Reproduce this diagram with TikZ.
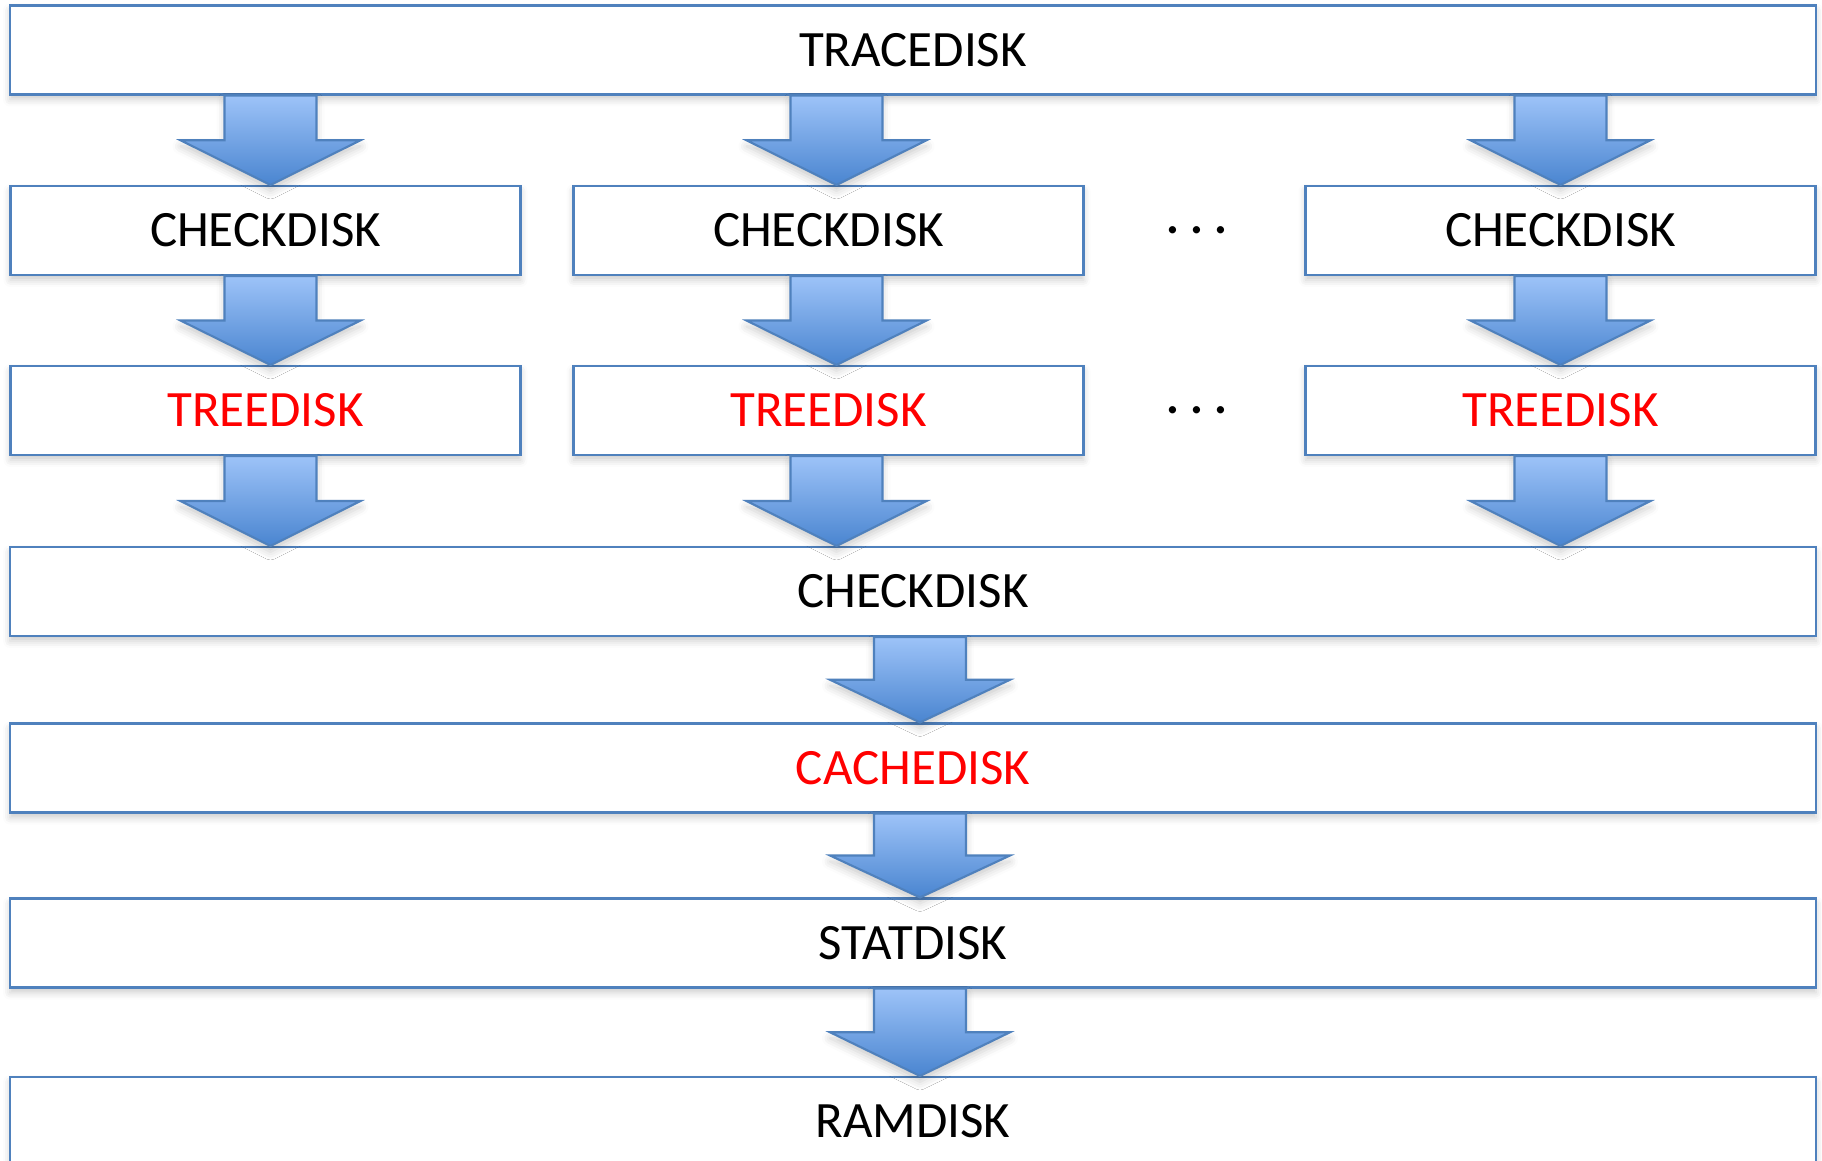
\documentclass[tikz,border=0pt]{standalone}
\usepackage{fontspec}
\setmainfont{Carlito}
\usetikzlibrary{calc,shadows.blur}

\definecolor{boxblue}{HTML}{4F81BD}
\definecolor{arrowtop}{HTML}{9DC3F8}
\definecolor{arrowtip}{HTML}{4A85D0}

\tikzset{
  layer/.style  = {draw=boxblue, line width=0.6pt, fill=white, minimum height=0.89cm,
                   inner sep=0pt, font=\fontsize{14.5}{17}\selectfont,
                   blur shadow={shadow xshift=0pt, shadow yshift=-0.5mm,
                                shadow blur radius=0.7mm, shadow opacity=20}},
  wide/.style   = {layer, minimum width=18.06cm},
  narrow/.style = {layer, minimum width=5.1cm},
  hot/.style    = {text=red},
  flow/.style   = {draw=boxblue, line width=0.6pt, top color=arrowtop, bottom color=arrowtip,
                   blur shadow={shadow xshift=0pt, shadow yshift=-0.6mm,
                                shadow blur radius=0.8mm, shadow opacity=20}},
}

% fat arrow: shaft from #2 down to halfway, head down to the tip #3
\newcommand\blockarrow[3][0pt]{%
  \path[flow] let \p1 = ($(#2)+(#1,0)$), \p2 = ($(#3)+(#1,0)$), \n1 = {0.5*(\y1+\y2)} in
    (\x1-0.46cm,\y1) -- (\x1+0.46cm,\y1) -- (\x1+0.46cm,\n1) -- (\x1+0.9cm,\n1)
    -- (\x2,\y2) -- (\x1-0.9cm,\n1) -- (\x1-0.46cm,\n1) -- cycle;}

\begin{document}
\begin{tikzpicture}
  \useasboundingbox (0,0) rectangle (18.22,-11.61);

  \node[wide]         (trace) at (9.13,-0.50)   {TRACEDISK};
  \node[narrow]       (chk1)  at (2.655,-2.305) {CHECKDISK};
  \node[narrow]       (chk2)  at (8.285,-2.305) {CHECKDISK};
  \node[narrow]       (chk3)  at (15.605,-2.305){CHECKDISK};
  \node[narrow,hot]   (tree1) at (2.655,-4.105) {TREEDISK};
  \node[narrow,hot]   (tree2) at (8.285,-4.105) {TREEDISK};
  \node[narrow,hot]   (tree3) at (15.605,-4.105){TREEDISK};
  \node[wide]         (merge) at (9.13,-5.915)  {CHECKDISK};
  \node[wide,hot]     (cache) at (9.13,-7.68)   {CACHEDISK};
  \node[wide]         (stat)  at (9.13,-9.43)   {STATDISK};
  \node[wide]         (ram)   at (9.13,-11.215) {RAMDISK};

  \node (more1) at (11.97,-2.36) {\fontsize{14.5}{17}\selectfont · · ·};
  \node (more2) at (11.97,-4.16) {\fontsize{14.5}{17}\selectfont · · ·};

  \blockarrow[0.05cm]{chk1.north |- trace.south}{chk1.north}
  \blockarrow[0.08cm]{chk2.north |- trace.south}{chk2.north}
  \blockarrow{chk3.north |- trace.south}{chk3.north}
  \blockarrow[0.05cm]{chk1.south}{tree1.north}
  \blockarrow[0.08cm]{chk2.south}{tree2.north}
  \blockarrow{chk3.south}{tree3.north}
  \blockarrow[0.05cm]{tree1.south}{tree1.south |- merge.north}
  \blockarrow[0.08cm]{tree2.south}{tree2.south |- merge.north}
  \blockarrow{tree3.south}{tree3.south |- merge.north}
  \blockarrow[0.07cm]{merge.south}{cache.north}
  \blockarrow[0.07cm]{cache.south}{stat.north}
  \blockarrow[0.07cm]{stat.south}{ram.north}
\end{tikzpicture}
\end{document}
